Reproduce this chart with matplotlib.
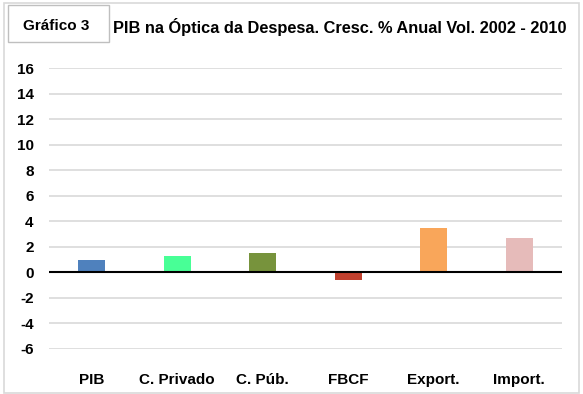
import matplotlib.pyplot as plt
from matplotlib.patches import Rectangle
import numpy as np

plt.rcParams['font.family'] = ['Liberation Sans', 'DejaVu Sans']

categories = ['PIB', 'C. Privado', 'C. Púb.', 'FBCF', 'Export.', 'Import.']
growth = [1.0, 1.3, 1.5, -0.6, 3.5, 2.7]
bar_colors = ['#4F81BD', '#48FF96', '#77933C', '#C0402E', '#F9A65A', '#E6BBBA']
y_ticks = [-6, -4, -2, 0, 2, 4, 6, 8, 10, 12, 14, 16]

fig = plt.figure(figsize=(5.83, 3.94), dpi=100)
ax = fig.add_axes([49 / 583, 1 - 349 / 394, (562 - 49) / 583, (349 - 68) / 394])

x = np.arange(len(categories))
ax.bar(x, growth, width=0.31, color=bar_colors, zorder=3)
ax.set_xlim(-0.5, len(categories) - 0.5)
ax.set_ylim(-6, 16)
ax.set_yticks(y_ticks)
ax.set_yticklabels([str(t) for t in y_ticks], fontweight='bold', fontsize=11)
ax.set_xticks(x)
ax.set_xticklabels(categories, fontweight='bold', fontsize=11)
ax.tick_params(axis='both', length=0)
ax.tick_params(axis='y', pad=11)
ax.tick_params(axis='x', pad=17)
ax.grid(axis='y', color='#D9D9D9', linewidth=1.2, zorder=0)
ax.axhline(0, color='black', linewidth=1.5, zorder=4)
for side in ax.spines.values():
    side.set_visible(False)

# outer frame and title box
fig.patches.append(Rectangle((4 / 583, 1 / 394), 575 / 583, 390 / 394, transform=fig.transFigure,
                             fill=False, edgecolor='#D9D9D9', linewidth=1.2))
fig.patches.append(Rectangle((8 / 583, 1 - 42 / 394), 101 / 583, 37 / 394, transform=fig.transFigure,
                             facecolor='white', edgecolor='#BFBFBF', linewidth=1.0))
fig.text(56 / 583, 1 - 26 / 394, 'Gráfico 3', ha='center', va='center', fontsize=11, fontweight='bold')
fig.text(113 / 583, 1 - 27 / 394, 'PIB na Óptica da Despesa. Cresc. % Anual Vol. 2002 - 2010',
         ha='left', va='center', fontsize=11.8, fontweight='bold')

fig.savefig('out.png', dpi=100)
